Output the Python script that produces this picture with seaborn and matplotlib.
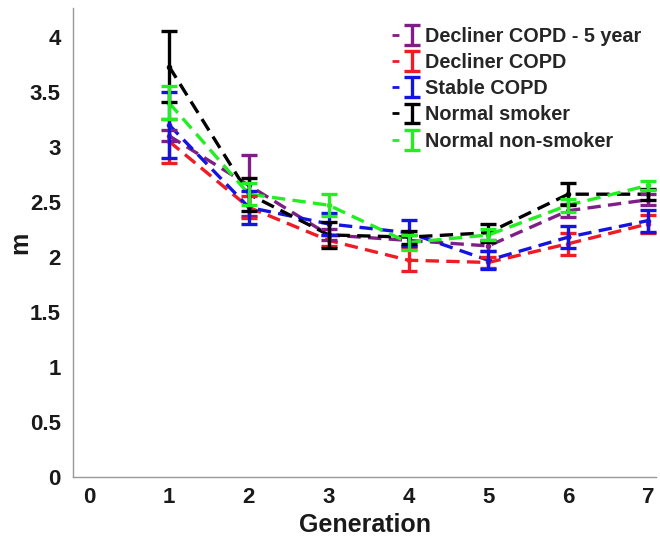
import numpy as np
import pandas as pd
import matplotlib
matplotlib.use("Agg")
import matplotlib.pyplot as plt
import seaborn as sns
from matplotlib.legend_handler import HandlerTuple
from matplotlib.lines import Line2D

generations = [1, 2, 3, 4, 5, 6, 7]
groups = ["Decliner COPD - 5 year", "Decliner COPD", "Stable COPD",
          "Normal smoker", "Normal non-smoker"]
decliner5_mean = [3.10, 2.65, 2.20, 2.15, 2.10, 2.42, 2.52]
decliner5_err = [0.05, 0.28, 0.05, 0.05, 0.05, 0.06, 0.05]
decliner_mean = [3.05, 2.45, 2.15, 1.97, 1.95, 2.12, 2.30]
decliner_err = [0.20, 0.10, 0.05, 0.10, 0.05, 0.10, 0.08]
stable_mean = [3.20, 2.45, 2.30, 2.22, 1.97, 2.18, 2.33]
stable_err = [0.30, 0.15, 0.10, 0.12, 0.08, 0.10, 0.10]
smoker_mean = [3.73, 2.57, 2.20, 2.18, 2.22, 2.57, 2.57]
smoker_err = [0.32, 0.15, 0.12, 0.06, 0.08, 0.10, 0.05]
nonsmoker_mean = [3.40, 2.57, 2.47, 2.13, 2.20, 2.47, 2.65]
nonsmoker_err = [0.15, 0.10, 0.10, 0.07, 0.05, 0.06, 0.04]

means = [decliner5_mean, decliner_mean, stable_mean, smoker_mean, nonsmoker_mean]
errs = [decliner5_err, decliner_err, stable_err, smoker_err, nonsmoker_err]
colors = ["#7E1E86", "#EE1C24", "#1414E0", "#000000", "#22EE22"]

rows = []
for g, m, e in zip(groups, means, errs):
    for x, v, ev in zip(generations, m, e):
        rows.append({"Generation": x, "m": v, "err": ev, "group": g})
df = pd.DataFrame(rows)

sns.set_style("white")
plt.rcParams['font.family'] = ['Liberation Sans', 'DejaVu Sans']
plt.rcParams['font.weight'] = 'bold'

fig = plt.figure(figsize=(6.6, 5.44), dpi=100)
ax = fig.add_axes([0.111, 0.123, 0.883, 0.862])

sns.lineplot(data=df, x="Generation", y="m", hue="group", hue_order=groups,
             palette=colors, ax=ax, linewidth=2.4, errorbar=None, legend=False,
             marker="o", markersize=4, markeredgewidth=0)
for line in list(ax.lines):
    line.set_dashes((4, 2.2))

handles = []
for g, c in zip(groups, colors):
    sub = df[df["group"] == g]
    h = ax.errorbar(sub["Generation"], sub["m"], yerr=sub["err"], fmt="none",
                    ecolor=c, elinewidth=2.4, capsize=6, capthick=2.4)
    handles.append(h)

leg_handles = []
for c, h in zip(colors, handles):
    dash = Line2D([], [], color=c, linewidth=2.0, dashes=(2.5, 2.5))
    leg_handles.append((dash, h))

leg = ax.legend(leg_handles, groups, loc="upper right", frameon=False,
                handlelength=1.2, handletextpad=0.45,
                labelspacing=0.36, bbox_to_anchor=(1.005, 0.998),
                handler_map={tuple: HandlerTuple(ndivide=None)},
                prop={'weight': 'bold', 'size': 14.3})

ax.set_xlim(-0.2, 7.1)
ax.set_ylim(0, 4.26)
ax.set_xticks(range(0, 8))
ax.set_yticks([0, 0.5, 1, 1.5, 2, 2.5, 3, 3.5, 4])
ax.set_yticklabels(["0", "0.5", "1", "1.5", "2", "2.5", "3", "3.5", "4"])
ax.tick_params(axis="both", direction="in", length=3, width=0.8, colors="#999999",
               labelcolor="#1a1a1a", labelsize=16)
ax.tick_params(axis="y", pad=9)
ax.tick_params(axis="x", pad=7)
for lbl in ax.get_xticklabels() + ax.get_yticklabels():
    lbl.set_fontweight("bold")
ax.set_xlabel("Generation", fontsize=18, fontweight="bold", color="#1a1a1a", labelpad=4)
ax.set_ylabel("m", fontsize=18, fontweight="bold", color="#1a1a1a", labelpad=-2)
for s in ["top", "right"]:
    ax.spines[s].set_visible(False)
for s in ["left", "bottom"]:
    ax.spines[s].set_color("#999999")
    ax.spines[s].set_linewidth(1.0)

fig.savefig("out.png", dpi=100)
